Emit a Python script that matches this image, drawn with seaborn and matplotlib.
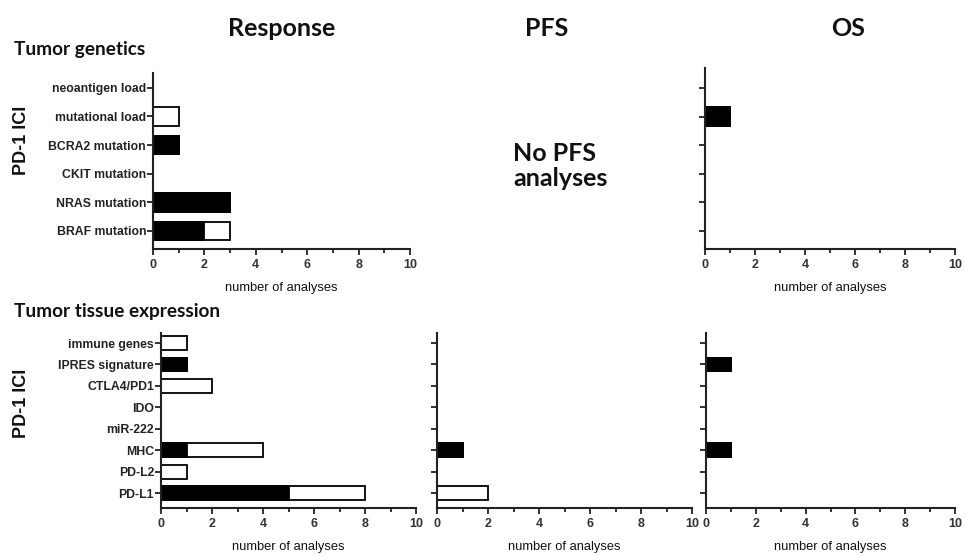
import matplotlib
matplotlib.use("Agg")
import matplotlib.pyplot as plt
import seaborn as sns
import numpy as np

# ---- data ----
gen_cats = ["neoantigen load", "mutational load", "BCRA2 mutation",
            "CKIT mutation", "NRAS mutation", "BRAF mutation"]
gen_resp_sig = [0, 0, 1, 0, 3, 2]
gen_resp_nonsig = [0, 1, 0, 0, 0, 1]
gen_os_sig = [0, 1, 0, 0, 0, 0]
gen_os_nonsig = [0, 0, 0, 0, 0, 0]

tis_cats = ["immune genes", "IPRES signature", "CTLA4/PD1", "IDO",
            "miR-222", "MHC", "PD-L2", "PD-L1"]
tis_resp_sig = [0, 1, 0, 0, 0, 1, 0, 5]
tis_resp_nonsig = [1, 0, 2, 0, 0, 3, 1, 3]
tis_pfs_sig = [0, 0, 0, 0, 0, 1, 0, 0]
tis_pfs_nonsig = [0, 0, 0, 0, 0, 0, 0, 2]
tis_os_sig = [0, 1, 0, 0, 0, 1, 0, 0]
tis_os_nonsig = [0, 0, 0, 0, 0, 0, 0, 0]

col_titles = ["Response", "PFS", "OS"]
row_titles = ["Tumor genetics", "Tumor tissue expression"]
x_ticks = [0, 2, 4, 6, 8, 10]

sns.set_style("ticks")
plt.rcParams["font.family"] = ["Liberation Sans", "DejaVu Sans"]

W, H = 965, 556
fig = plt.figure(figsize=(W / 100, H / 100), dpi=100)


def px_axes(x0, x1, ytop, ybot):
    return fig.add_axes([x0 / W, 1 - ybot / H, (x1 - x0) / W, (ybot - ytop) / H])


def draw(ax, cats, sig, nonsig, ylim, labels=True):
    total = [s + n for s, n in zip(sig, nonsig)]
    sns.barplot(x=total, y=cats, orient="h", color="white", edgecolor="black",
                linewidth=1.3, width=0.65, saturation=1, errorbar=None, ax=ax)
    sns.barplot(x=sig, y=cats, orient="h", color="black", edgecolor="black",
                linewidth=1.3, width=0.65, saturation=1, errorbar=None, ax=ax)
    ax.set_xlim(0, 10)
    ax.set_ylim(*ylim)
    ax.set_xticks(x_ticks)
    ax.set_xticks([1, 3, 5, 7, 9], minor=True)
    ax.set_xticklabels([str(t) for t in x_ticks], fontsize=9, fontweight="bold", color="#333333")
    ax.tick_params(axis="x", which="major", length=4, width=1.3, color="#222222", pad=3)
    ax.tick_params(axis="x", which="minor", length=3, width=1.3, color="#222222")
    ax.tick_params(axis="y", length=4, width=1.3, color="#222222", pad=1)
    if labels:
        ax.set_yticklabels(cats, fontsize=8.8, fontweight="bold", color="#222222")
    else:
        ax.set_yticklabels([])
    ax.set_xlabel("number of analyses", fontsize=9.3, color="#111111", labelpad=8)
    ax.set_ylabel("")
    sns.despine(ax=ax)
    for s in ("left", "bottom"):
        ax.spines[s].set_linewidth(1.5)
        ax.spines[s].set_color("#222222")


ylim_top = (5.63, -0.52)
ylim_bot = (7.7, -0.47)

ax1 = px_axes(153, 410, 73, 249)
draw(ax1, gen_cats, gen_resp_sig, gen_resp_nonsig, ylim_top)
ax2 = px_axes(705, 955, 68, 249)
draw(ax2, gen_cats, gen_os_sig, gen_os_nonsig, (5.63, -0.7), labels=False)

ax3 = px_axes(161, 416, 333, 508)
draw(ax3, tis_cats, tis_resp_sig, tis_resp_nonsig, ylim_bot)
ax4 = px_axes(437, 692, 333, 508)
draw(ax4, tis_cats, tis_pfs_sig, tis_pfs_nonsig, ylim_bot, labels=False)
ax5 = px_axes(706, 955, 333, 508)
draw(ax5, tis_cats, tis_os_sig, tis_os_nonsig, ylim_bot, labels=False)

title_font = ["Lato", "DejaVu Sans"]
for x, t in zip([282, 547, 848], col_titles):
    fig.text(x / W, 1 - 28 / H, t, ha="center", va="center", fontsize=18,
             fontweight="bold", family=title_font, color="#111111")

fig.text(14 / W, 1 - 50 / H, row_titles[0], ha="left", va="center", fontsize=13.7,
         fontweight="bold", family=title_font, color="#111111")
fig.text(14 / W, 1 - 312 / H, row_titles[1], ha="left", va="center", fontsize=13.7,
         fontweight="bold", family=title_font, color="#111111")

for yc in (140, 403):
    fig.text(21 / W, 1 - yc / H, "PD-1 ICI", rotation=90, ha="center", va="center",
             fontsize=13, fontweight="bold", color="#111111")

fig.text(513 / W, 1 - 166 / H, "No PFS\nanalyses", ha="left", va="center",
         fontsize=18, fontweight="bold", family=title_font, color="#111111",
         linespacing=1.15)

fig.savefig("out.png", dpi=100)
